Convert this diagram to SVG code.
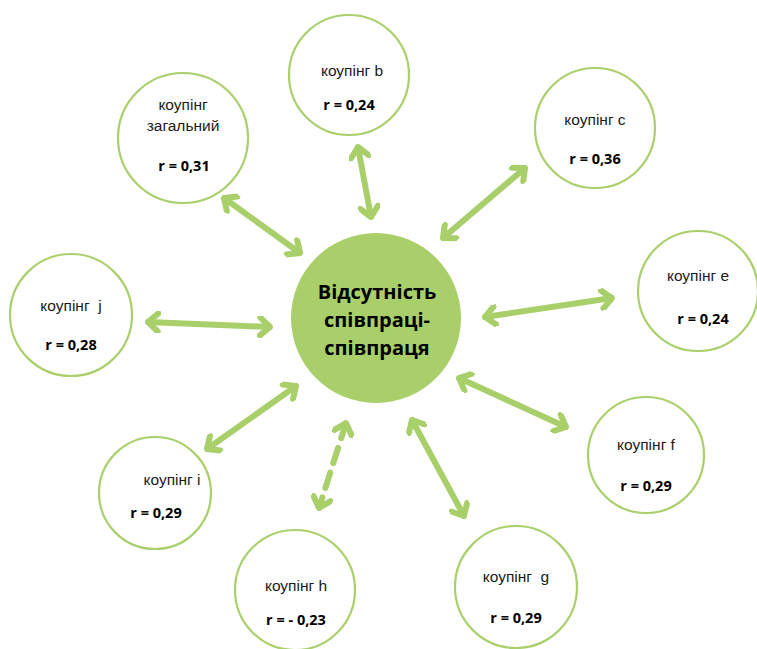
<svg xmlns="http://www.w3.org/2000/svg" width="757" height="649" viewBox="0 0 757 649">
<style>
.n{fill:#fff;stroke:#a9d06b;stroke-width:2.2}
.lb{font-family:"Liberation Sans",Arial,sans-serif;font-size:15.5px;fill:#1a1a1a;text-anchor:middle}
.r{font-family:"Open Sans","Liberation Sans",sans-serif;font-size:14.5px;font-weight:bold;fill:#000;text-anchor:middle}
.ct{font-family:"Open Sans","Liberation Sans",sans-serif;font-size:20px;font-weight:bold;fill:#000;text-anchor:middle}
.a{stroke:#a8cf6a;stroke-width:6;fill:none;stroke-linecap:round;stroke-linejoin:round}
.d{stroke-dasharray:16 10}
</style>
<defs>
<marker id="h" viewBox="-13 -11 15 22" markerWidth="15" markerHeight="22" markerUnits="userSpaceOnUse" orient="auto-start-reverse" refX="0" refY="0">
<polyline points="-10,-9 0,0 -10,9" fill="none" stroke="#a8cf6a" stroke-width="6" stroke-linecap="round" stroke-linejoin="round"/>
</marker>
</defs>
<g id="connectors">
<line class="a" x1="224" y1="198" x2="300" y2="253" marker-start="url(#h)" marker-end="url(#h)"/>
<line class="a" x1="358" y1="147" x2="371" y2="217" marker-start="url(#h)" marker-end="url(#h)"/>
<line class="a" x1="525" y1="168" x2="443" y2="238" marker-start="url(#h)" marker-end="url(#h)"/>
<line class="a" x1="485" y1="317" x2="612" y2="298" marker-start="url(#h)" marker-end="url(#h)"/>
<line class="a" x1="148" y1="322" x2="270" y2="327" marker-start="url(#h)" marker-end="url(#h)"/>
<line class="a" x1="459" y1="378" x2="566" y2="427" marker-start="url(#h)" marker-end="url(#h)"/>
<line class="a" x1="207" y1="449" x2="296" y2="386" marker-start="url(#h)" marker-end="url(#h)"/>
<line class="a d" x1="346" y1="423" x2="319" y2="508" marker-start="url(#h)" marker-end="url(#h)"/>
<line class="a" x1="412" y1="420" x2="464" y2="516" marker-start="url(#h)" marker-end="url(#h)"/>
</g>
<g id="center">
<circle cx="376" cy="318" r="85" fill="#a8cf6a"/>
<text class="ct" x="377" y="299">Відсутність</text>
<text class="ct" x="377" y="327">співпраці-</text>
<text class="ct" x="377" y="355">співпраця</text>
</g>
<g id="n-zag">
<circle class="n" cx="183" cy="138" r="65"/>
<text class="lb" x="183" y="110">коупінг</text>
<text class="lb" x="183" y="131">загальний</text>
<text class="r" x="184" y="171">r = 0,31</text>
</g>
<g id="n-b">
<circle class="n" cx="349" cy="75" r="60"/>
<text class="lb" x="352" y="76">коупінг b</text>
<text class="r" x="349" y="110">r = 0,24</text>
</g>
<g id="n-c">
<circle class="n" cx="595" cy="128" r="60"/>
<text class="lb" x="595" y="125">коупінг c</text>
<text class="r" x="595" y="164">r = 0,36</text>
</g>
<g id="n-e">
<circle class="n" cx="698" cy="291" r="60"/>
<text class="lb" x="698" y="281">коупінг e</text>
<text class="r" x="703" y="324">r = 0,24</text>
</g>
<g id="n-j">
<circle class="n" cx="71" cy="315" r="61"/>
<text class="lb" x="71" y="311" xml:space="preserve">коупінг  j</text>
<text class="r" x="71" y="350">r = 0,28</text>
</g>
<g id="n-f">
<circle class="n" cx="646" cy="455" r="58"/>
<text class="lb" x="646" y="450">коупінг f</text>
<text class="r" x="646" y="491">r = 0,29</text>
</g>
<g id="n-i">
<circle class="n" cx="155" cy="493" r="56"/>
<text class="lb" x="172" y="485">коупінг і</text>
<text class="r" x="156" y="518">r = 0,29</text>
</g>
<g id="n-h">
<circle class="n" cx="295" cy="590" r="60"/>
<text class="lb" x="296" y="591">коупінг h</text>
<text class="r" x="296" y="625">r = - 0,23</text>
</g>
<g id="n-g">
<circle class="n" cx="516" cy="587" r="61"/>
<text class="lb" x="516" y="582" xml:space="preserve">коупінг  g</text>
<text class="r" x="516" y="623">r = 0,29</text>
</g>
</svg>
